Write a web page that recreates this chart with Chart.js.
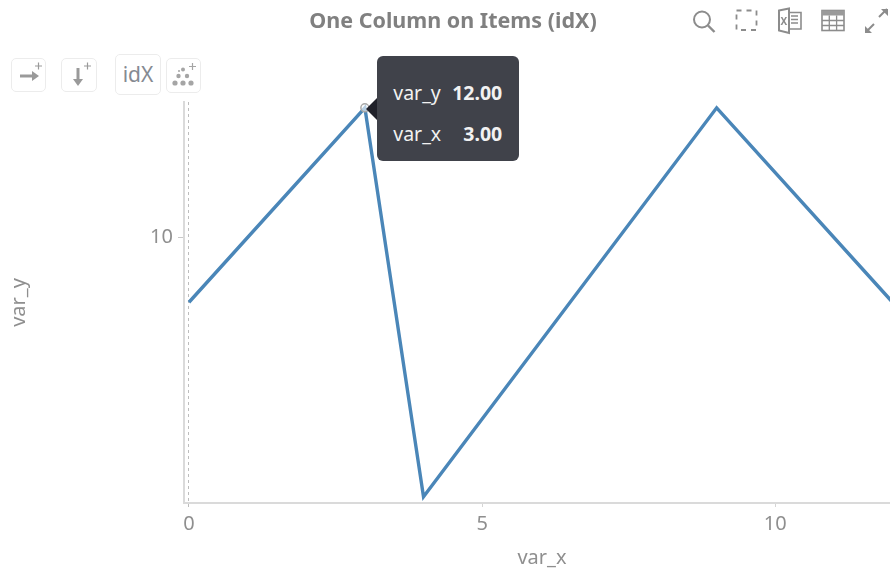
<!DOCTYPE html>
<html>
<head>
<meta charset="utf-8">
<script src="https://cdn.jsdelivr.net/npm/chart.js@4"></script>
<style>
html,body{margin:0;padding:0;background:#fff;width:890px;height:570px;overflow:hidden;font-family:"Noto Sans","Open Sans",sans-serif}
#wrap{position:relative;width:890px;height:570px;overflow:hidden}
canvas{position:absolute;left:0;top:0}
.ic{position:absolute;box-sizing:border-box}
.btn{position:absolute;box-sizing:border-box;border:1.5px solid #ececec;border-radius:5px;background:#fff;color:#8a8f96;text-align:center}
#tip{position:absolute;width:142px;height:105px;background:#40424a;border-radius:6px;color:#f2f2f2;font-size:19.5px;box-sizing:border-box}
#tip .row{position:absolute;left:16px;right:17px;display:flex;justify-content:space-between;height:26px;line-height:26px}
#tip b{font-weight:700}
#arrow{position:absolute;width:0;height:0;border-top:11px solid transparent;border-bottom:11px solid transparent;border-right:11px solid #20212a}
</style>
</head>
<body>
<div id="wrap">
<canvas id="c" width="906" height="570"></canvas>

<svg class="ic" style="left:690px;top:6px" width="200" height="30" viewBox="0 0 200 30" fill="none" stroke="#8c8c8c">
  <circle cx="12" cy="13.500" r="8" stroke-width="2"/><line x1="18" y1="19.500" x2="24.500" y2="26" stroke-width="2.400"/>
  <rect x="46.500" y="4.500" width="20" height="19.500" stroke-width="1.800" stroke-dasharray="5 5"/>
  <path d="M89 4.500 L99 2.500 V27 L89 24.500 Z" stroke-width="2"/><path d="M99 6.500 H111 V23 H99 M101 10 H108 M101 13.500 H108 M101 17 H108" stroke-width="1.600"/>
  <text x="90.500" y="18.500" font-size="10" font-weight="700" font-family="Noto Sans" fill="#8c8c8c" stroke="none">X</text>
  <rect x="132" y="4.500" width="22" height="20" stroke-width="1.600"/><rect x="132" y="4.500" width="22" height="5" fill="#9a9a9a" stroke="none"/>
  <path d="M132 14.500 H154 M132 19.500 H154 M139.300 9.500 V24.500 M146.600 9.500 V24.500" stroke-width="1.300"/>
  <path d="M176 26 L184 18 M189 11 L197 3" stroke-width="2"/><path d="M175 20 V27 H182 Z M191 3 H198 V10 Z" fill="#8c8c8c" stroke="none"/>
</svg>

<div class="btn" style="left:11px;top:58px;width:35px;height:34px"></div>
<svg class="ic" style="left:11px;top:58px" width="35" height="34" fill="none" stroke="#9a9a9a">
  <path d="M9 18 H24" stroke-width="3"/><path d="M21 13 L28 18 L21 23 Z" fill="#9a9a9a" stroke="none"/><path d="M24 8 H31 M27.500 4.500 V11.500" stroke-width="1.200"/>
</svg>
<div class="btn" style="left:61px;top:58px;width:36px;height:34px"></div>
<svg class="ic" style="left:61px;top:58px" width="36" height="34" fill="none" stroke="#9a9a9a">
  <path d="M17 10 V24" stroke-width="3"/><path d="M12 21 L17 28 L22 21 Z" fill="#9a9a9a" stroke="none"/><path d="M23 8 H30 M26.500 4.500 V11.500" stroke-width="1.200"/>
</svg>
<div class="btn" style="left:115px;top:54px;width:46px;height:41px;font-size:21px;line-height:38px;color:#858a92">idX</div>
<div class="btn" style="left:166px;top:58px;width:35px;height:35px"></div>
<svg class="ic" style="left:166px;top:58px" width="35" height="35" fill="#a5a5a5" stroke="none">
  <circle cx="9" cy="25" r="2.600"/><circle cx="17" cy="25" r="2.600"/><circle cx="25" cy="25" r="2.600"/>
  <circle cx="12.500" cy="18" r="2.200"/><circle cx="21" cy="18" r="2.200"/><circle cx="17" cy="11.500" r="2"/><circle cx="13" cy="13" r="1"/>
  <path d="M23 8.500 H30 M26.500 5 V12" stroke="#a5a5a5" stroke-width="1.200"/>
</svg>

<div id="arrow"></div>
<div id="tip"></div>
</div>

<script>
const chartTitle = "One Column on Items (idX)";
const xName = "var_x";
const yName = "var_y";
const xValues = [0, 3, 4, 9, 12];
const yValues = [9, 12, 6, 12, 9];
const xTicks = [0, 5, 10];
const yTicks = [10];
const activeIndex = 1;

const FONT = '"Noto Sans","Open Sans",sans-serif';
const TEXT = '#8f8f8f';
const AXIS = '#dadada';

function renderTip(ctx) {
  const t = ctx.tooltip;
  if (!t.dataPoints || !t.dataPoints.length) return;
  const p = t.dataPoints[0];
  const tip = document.getElementById('tip');
  const arrow = document.getElementById('arrow');
  tip.innerHTML = '';
  [[yName, p.parsed.y, 24], [xName, p.parsed.x, 65]].forEach(function (r) {
    const row = document.createElement('div');
    row.className = 'row';
    row.style.top = r[2] + 'px';
    const a = document.createElement('span');
    a.textContent = r[0];
    const b = document.createElement('b');
    b.textContent = r[1].toFixed(2);
    row.appendChild(a); row.appendChild(b);
    tip.appendChild(row);
  });
  tip.style.left = (p.element.x + 12.4) + 'px';
  tip.style.top = (p.element.y - 51.5) + 'px';
  arrow.style.left = (p.element.x + 1.4) + 'px';
  arrow.style.top = (p.element.y - 9.5) + 'px';
}

const chart = new Chart(document.getElementById('c'), {
  type: 'line',
  data: {
    datasets: [{
      data: xValues.map(function (x, i) { return { x: x, y: yValues[i] }; }),
      xAxisID: 'x',
      yAxisID: 'y',
      borderColor: '#4a86b8',
      borderWidth: 3.4,
      tension: 0,
      fill: false,
      clip: false,
      pointRadius: function (c) { return c.dataIndex === activeIndex ? 4 : 0; },
      pointHoverRadius: function (c) { return c.dataIndex === activeIndex ? 4 : 0; },
      pointBackgroundColor: 'rgba(255,255,255,0.6)',
      pointBorderColor: '#a8a8a8',
      pointBorderWidth: 1.5
    }]
  },
  options: {
    responsive: false,
    animation: false,
    events: [],
    plugins: {
      legend: { display: false },
      title: {
        display: true,
        text: chartTitle,
        color: '#808080',
        font: { family: FONT, size: 21.5, weight: 'bold' },
        padding: { top: 8.5, bottom: 67.7 }
      },
      tooltip: { enabled: false, external: renderTip, mode: 'nearest' }
    },
    scales: {
      x: {
        type: 'linear',
        min: -0.085,
        max: 12.127,
        afterBuildTicks: function (s) { s.ticks = xTicks.map(function (v) { return { value: v }; }); },
        afterFit: function (s) { s.height = 67; },
        grid: {
          drawOnChartArea: true,
          color: function (c) { return c.tick && c.tick.value === 0 ? '#bdbdbd' : 'transparent'; },
          tickColor: function (c) { return c.tick && c.tick.value === 0 ? '#bdbdbd' : '#d5d5d5'; },
          tickLength: 7,
          lineWidth: 1,
          tickBorderDash: [3, 3]
        },
        border: { color: AXIS, width: 2, dash: [3, 3] },
        ticks: {
          color: TEXT, autoSkip: false, maxRotation: 0, padding: 2,
          font: { family: FONT, size: 20 },
          callback: function (v) { return String(v); }
        },
        title: { display: true, text: xName, color: TEXT, font: { family: FONT, size: 20 }, padding: { top: 4, bottom: 0 } }
      },
      y: {
        type: 'linear',
        min: 5.902,
        max: 12.09,
        afterBuildTicks: function (s) { s.ticks = yTicks.map(function (v) { return { value: v }; }); },
        afterFit: function (s) { s.width = 184; },
        grid: { drawOnChartArea: false, drawTicks: true, tickLength: 6, tickColor: '#c8c8c8', color: 'transparent' },
        border: { color: AXIS, width: 2 },
        ticks: {
          color: TEXT, padding: 5,
          font: { family: FONT, size: 20 },
          callback: function (v) { return String(v); }
        },
        title: { display: true, text: yName, color: TEXT, font: { family: FONT, size: 20 }, padding: { top: 7, bottom: 0 } }
      },
      gutter: {
        type: 'linear',
        position: 'right',
        afterFit: function (s) { s.width = 6; },
        grid: { display: false },
        border: { display: false },
        ticks: { display: false }
      }
    }
  }
});

chart.tooltip.setActiveElements([{ datasetIndex: 0, index: activeIndex }], { x: 0, y: 0 });
chart.render();
</script>
</body>
</html>
